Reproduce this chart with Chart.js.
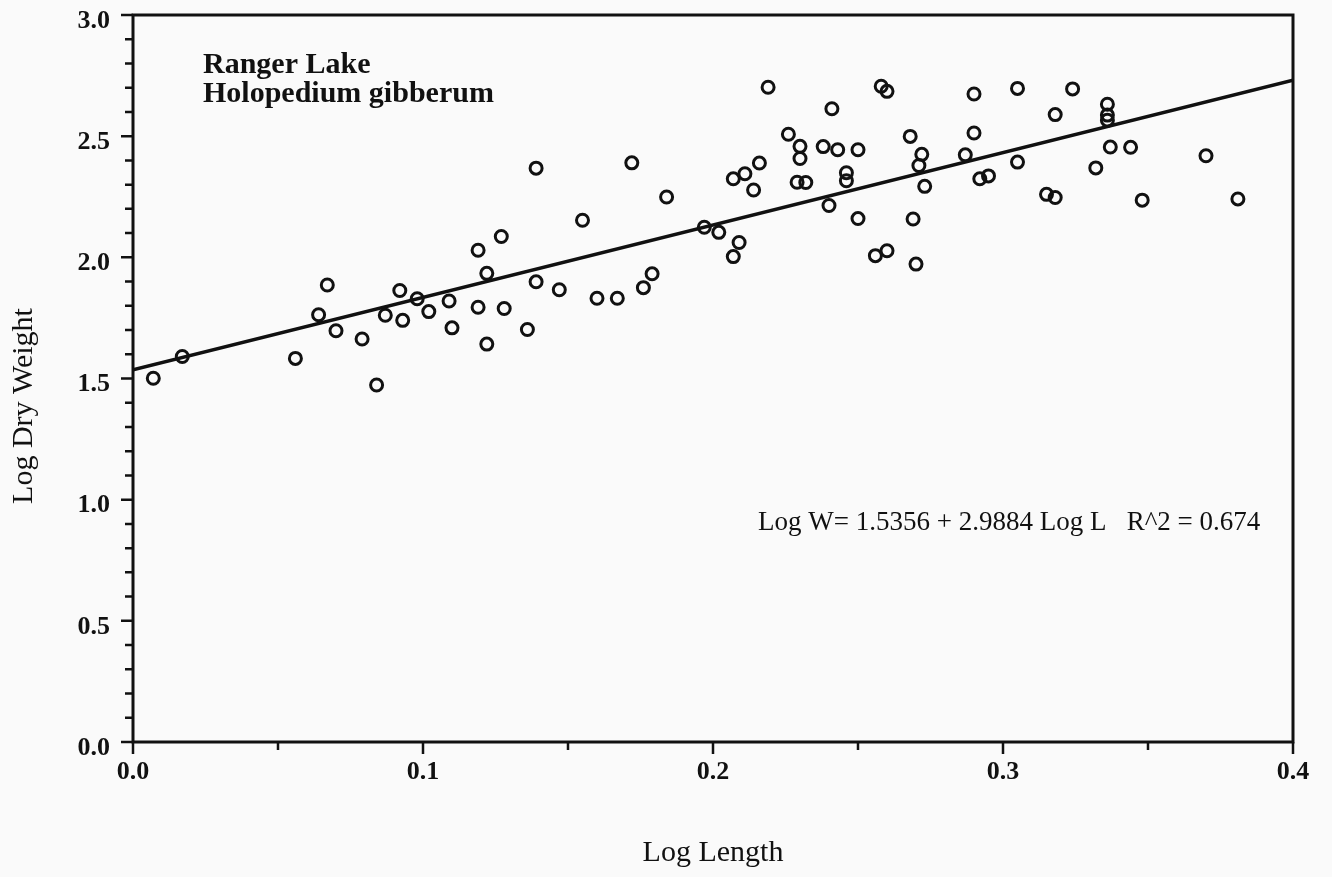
<!DOCTYPE html>
<html>
<head>
<meta charset="utf-8">
<script src="https://cdn.jsdelivr.net/npm/chart.js@4/dist/chart.umd.min.js"></script>
<style>
  html, body { margin: 0; padding: 0; background: #fafafa; }
  canvas { display: block; }
</style>
</head>
<body>
<canvas id="c" width="1332" height="877"></canvas>
<script>
// ---- data ----
const logLength = [
  0.007, 0.017, 0.056, 0.064, 0.067, 0.070, 0.079, 0.084, 0.087, 0.092,
  0.093, 0.098, 0.102, 0.109, 0.110, 0.119, 0.119, 0.122, 0.122, 0.127,
  0.128, 0.136, 0.139, 0.139, 0.147, 0.155, 0.160, 0.167, 0.172, 0.176,
  0.179, 0.184, 0.197, 0.202, 0.207, 0.209, 0.207, 0.211, 0.214, 0.216,
  0.219, 0.226, 0.230, 0.230, 0.229, 0.232, 0.238, 0.240, 0.241, 0.243,
  0.246, 0.246, 0.250, 0.250, 0.256, 0.260, 0.258, 0.260, 0.268, 0.269,
  0.270, 0.271, 0.272, 0.273, 0.287, 0.290, 0.290, 0.292, 0.295, 0.305,
  0.305, 0.315, 0.318, 0.318, 0.324, 0.332, 0.336, 0.336, 0.336, 0.337,
  0.344, 0.348, 0.370, 0.381
];
const logDryWeight = [
  1.501, 1.591, 1.583, 1.763, 1.886, 1.697, 1.663, 1.473, 1.761, 1.863,
  1.740, 1.829, 1.776, 1.820, 1.709, 1.794, 2.029, 1.934, 1.642, 2.086,
  1.789, 1.702, 2.368, 1.899, 1.866, 2.153, 1.831, 1.831, 2.390, 1.875,
  1.932, 2.249, 2.124, 2.103, 2.003, 2.061, 2.324, 2.345, 2.278, 2.389,
  2.702, 2.508, 2.458, 2.408, 2.310, 2.309, 2.457, 2.214, 2.613, 2.444,
  2.349, 2.316, 2.444, 2.160, 2.007, 2.027, 2.706, 2.685, 2.499, 2.158,
  1.972, 2.379, 2.425, 2.293, 2.423, 2.674, 2.513, 2.324, 2.336, 2.697,
  2.393, 2.260, 2.247, 2.589, 2.695, 2.369, 2.632, 2.587, 2.566, 2.455,
  2.454, 2.236, 2.419, 2.241
];
const xTickLabels = ['0.0', '0.1', '0.2', '0.3', '0.4'];
const yTickLabels = ['0.0', '0.5', '1.0', '1.5', '2.0', '2.5', '3.0'];
const fitIntercept = 1.5356;
const fitSlope = 2.9884;
const fitR2 = 0.674;
const fitX = [0, 0.4];
const titleLines = ['Ranger Lake', 'Holopedium gibberum'];
const xTitle = 'Log Length';
const yTitle = 'Log Dry Weight';
const equationText = 'Log W= ' + fitIntercept.toFixed(4) + ' + ' + fitSlope.toFixed(4) +
  ' Log L   R^2 = ' + fitR2.toFixed(3);

// ---- build datasets ----
const points = logLength.map((x, i) => ({ x: x, y: logDryWeight[i] }));
const fitLine = fitX.map(x => ({ x: x, y: fitIntercept + fitSlope * x }));

const INK = '#111';
const SERIF = '"Liberation Serif", "Times New Roman", serif';

const framePlugin = {
  id: 'frame',
  beforeDraw(chart) {
    const ctx = chart.ctx;
    ctx.save();
    ctx.fillStyle = '#fafafa';
    ctx.fillRect(0, 0, chart.width, chart.height);
    ctx.restore();
  },
  afterDraw(chart) {
    const { ctx, chartArea: a, scales } = chart;
    const xs = scales.x, ys = scales.y;
    ctx.save();
    ctx.strokeStyle = INK;
    ctx.lineWidth = 3;
    ctx.strokeRect(a.left, a.top, a.right - a.left, a.bottom - a.top);

    ctx.lineWidth = 2.5;
    ctx.beginPath();
    for (let k = 0; k <= 30; k++) {
      const p = ys.getPixelForValue(k / 10);
      const len = (k % 5 === 0) ? 12 : 8;
      ctx.moveTo(a.left - len, p);
      ctx.lineTo(a.left, p);
    }
    for (let k = 0; k <= 8; k++) {
      const p = xs.getPixelForValue(k * 0.05);
      const len = (k % 2 === 0) ? 12 : 8;
      ctx.moveTo(p, a.bottom);
      ctx.lineTo(p, a.bottom + len);
    }
    ctx.stroke();

    // annotation texts
    ctx.fillStyle = INK;
    ctx.textAlign = 'left';
    ctx.textBaseline = 'alphabetic';
    ctx.font = 'bold 30px ' + SERIF;
    ctx.fillText(titleLines[0], a.left + 70, a.top + 58);
    ctx.fillText(titleLines[1], a.left + 70, a.top + 87);

    ctx.font = '27px ' + SERIF;
    ctx.fillText(equationText, a.left + 625, 530);

    // y axis title
    ctx.save();
    ctx.translate(32, 406);
    ctx.rotate(-Math.PI / 2);
    ctx.textAlign = 'center';
    ctx.font = '30px ' + SERIF;
    ctx.fillText(yTitle, 0, 0);
    ctx.restore();

    ctx.restore();
  }
};

new Chart(document.getElementById('c'), {
  type: 'scatter',
  data: {
    datasets: [
      {
        label: 'Observations',
        data: points,
        pointRadius: 6,
        pointHoverRadius: 6,
        borderWidth: 3,
        pointBorderWidth: 3,
        borderColor: INK,
        backgroundColor: 'rgba(0,0,0,0)',
        showLine: false
      },
      {
        type: 'line',
        label: 'Fit',
        data: fitLine,
        borderColor: INK,
        borderWidth: 3.5,
        pointRadius: 0,
        fill: false,
        tension: 0
      }
    ]
  },
  options: {
    responsive: false,
    animation: false,
    events: [],
    layout: { padding: { top: 15, right: 39, left: 0, bottom: 0 } },
    plugins: {
      legend: { display: false },
      tooltip: { enabled: false }
    },
    scales: {
      x: {
        type: 'linear',
        min: 0,
        max: 0.4,
        grid: { display: false, drawTicks: false },
        border: { display: false },
        afterFit(scale) {
          scale.height = 135;
          scale.paddingLeft = 0;
          scale.paddingRight = 0;
        },
        ticks: {
          stepSize: 0.1,
          autoSkip: false,
          maxRotation: 0,
          padding: 15,
          color: INK,
          font: { family: SERIF, size: 26, weight: 'bold' },
          callback: (v, i) => xTickLabels[i]
        },
        title: {
          display: true,
          text: xTitle,
          color: INK,
          font: { family: SERIF, size: 30 },
          padding: { top: 0, bottom: 6 }
        }
      },
      y: {
        type: 'linear',
        min: 0,
        max: 3,
        grid: { display: false, drawTicks: false },
        border: { display: false },
        afterFit(scale) {
          scale.width = 133;
          scale.paddingTop = 0;
          scale.paddingBottom = 0;
        },
        ticks: {
          stepSize: 0.5,
          autoSkip: false,
          padding: 23,
          labelOffset: 6,
          color: INK,
          font: { family: SERIF, size: 26, weight: 'bold' },
          callback: (v, i) => yTickLabels[i]
        }
      }
    }
  },
  plugins: [framePlugin]
});
</script>
</body>
</html>
